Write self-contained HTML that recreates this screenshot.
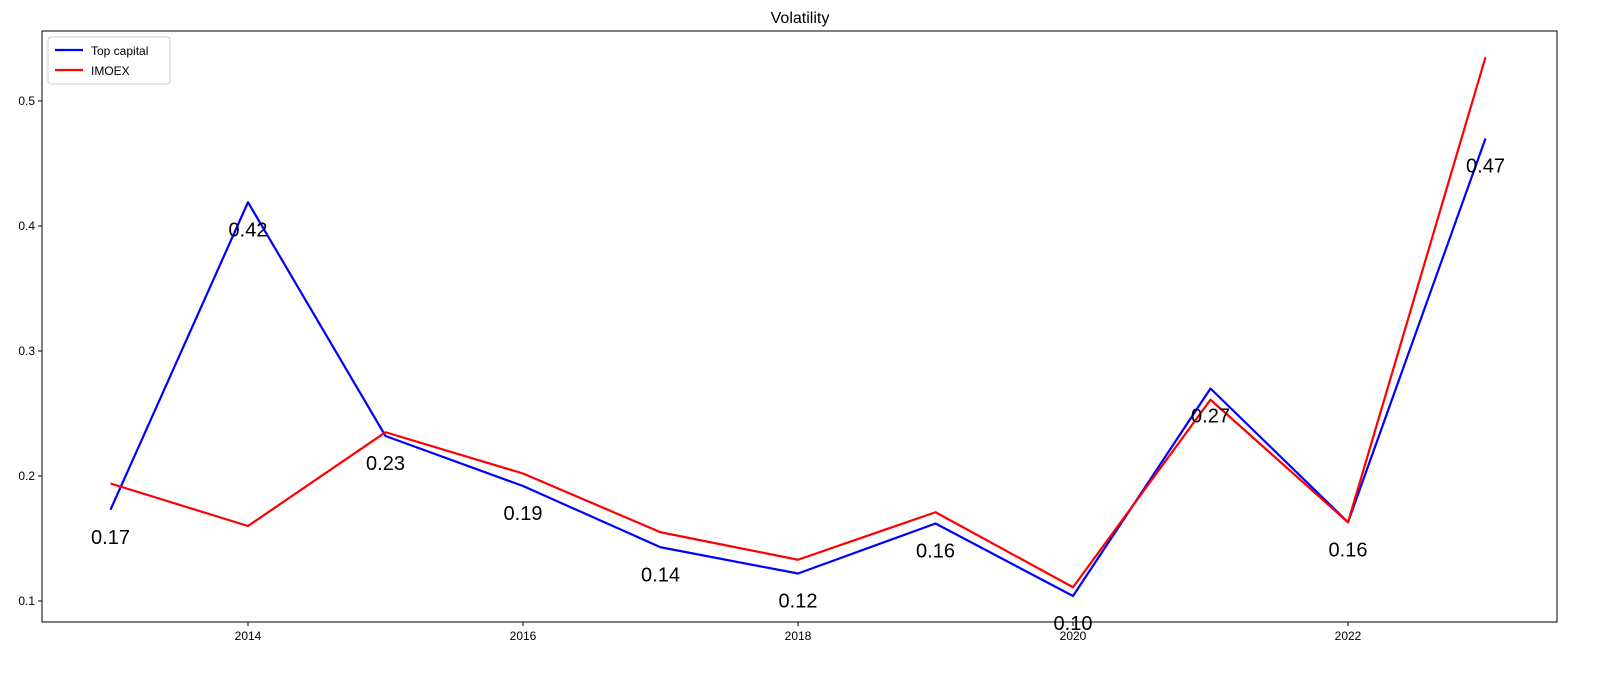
<!DOCTYPE html>
<html><head><meta charset="utf-8"><style>
body{margin:0;background:#fff}
svg{font-family:"Liberation Sans","DejaVu Sans",sans-serif}
</style></head><body>
<svg id="chart" width="1601" height="670"></svg>
<script>
const years=[2013,2014,2015,2016,2017,2018,2019,2020,2021,2022,2023];
const topCapital=[0.173,0.419,0.232,0.192,0.143,0.122,0.162,0.104,0.270,0.163,0.470];
const imoex=[0.194,0.160,0.235,0.202,0.155,0.133,0.171,0.111,0.261,0.163,0.535];
const xTicks=[2014,2016,2018,2020,2022];
const yTicks=[0.1,0.2,0.3,0.4,0.5];
const NS='http://www.w3.org/2000/svg';
const svg=document.getElementById('chart');
const L=42,R=1557,T=31,B=622;
const X=v=>248+(v-2014)*137.5;
const Y=v=>601-(v-0.1)*1250;
function mk(tag,attrs,parent){const e=document.createElementNS(NS,tag);for(const k in attrs)e.setAttribute(k,attrs[k]);(parent||svg).appendChild(e);return e;}
const title=mk('text',{x:800,y:23,'text-anchor':'middle','font-size':16});
title.textContent='Volatility';


const frame=mk('rect',{x:L,y:T,width:R-L,height:B-T,fill:'none',stroke:'#000','stroke-width':1});


xTicks.forEach(t=>{
  const x=X(t);
  const tk=mk('line',{x1:x,x2:x,y1:B,y2:B+4,stroke:'#000'});
  
  
  const lb=mk('text',{x:x,y:B+18,'text-anchor':'middle','font-size':12});
  lb.textContent=t;
  
  
});
yTicks.forEach(t=>{
  const y=Y(t);
  const tk=mk('line',{x1:L-4,x2:L,y1:y,y2:y,stroke:'#000'});
  
  
  const lb=mk('text',{x:L-7,y:y+4,'text-anchor':'end','font-size':12});
  lb.textContent=t.toFixed(1);
  
  
});
function line(vals,color,name){
  const p=mk('polyline',{points:vals.map((v,i)=>X(years[i])+','+Y(v)).join(' '),fill:'none',stroke:color,'stroke-width':2.2,'stroke-linejoin':'round'});
  
  
}
line(topCapital,'#0000ff','top-capital-line');
line(imoex,'#ff0000','imoex-line');
topCapital.forEach((v,i)=>{
  const t=mk('text',{x:X(years[i]),y:Y(v)+34,'text-anchor':'middle','font-size':20});
  t.textContent=v.toFixed(2);
  
  
});
const lg=mk('g',{});


mk('rect',{x:48,y:37,width:122,height:47,rx:3,fill:'#fff',stroke:'#ccc'},lg);
mk('line',{x1:55,x2:83,y1:50,y2:50,stroke:'#0000ff','stroke-width':2.2},lg);
const l1=mk('text',{x:91,y:55,'font-size':12},lg);l1.textContent='Top capital';


mk('line',{x1:55,x2:83,y1:70,y2:70,stroke:'#ff0000','stroke-width':2.2},lg);
const l2=mk('text',{x:91,y:75,'font-size':12},lg);l2.textContent='IMOEX';


</script>
</body></html>
